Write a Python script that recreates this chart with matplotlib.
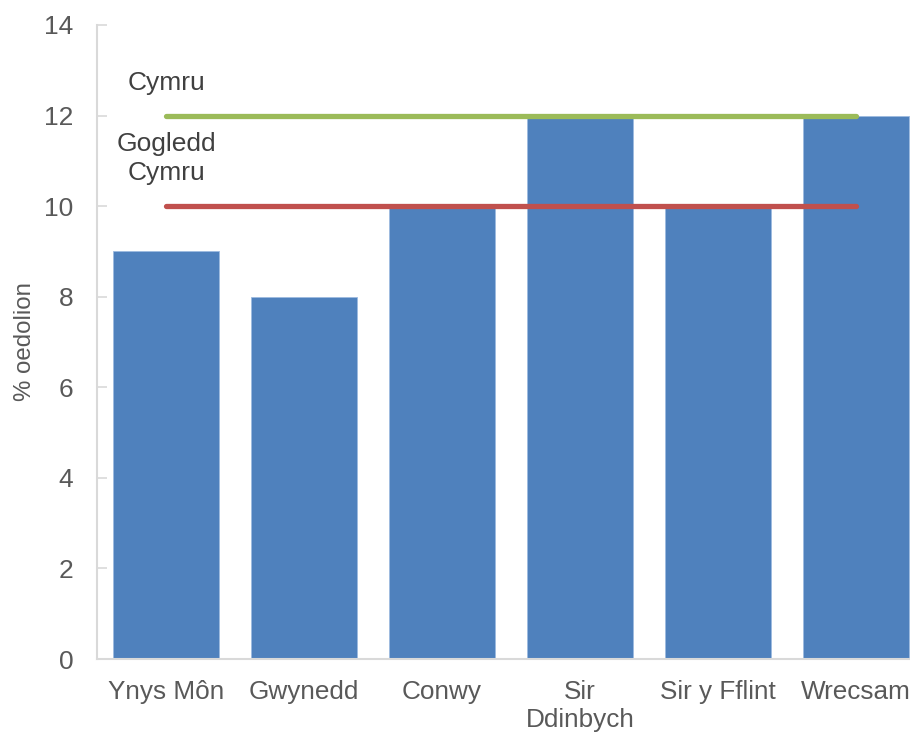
import matplotlib
matplotlib.use("Agg")
import matplotlib.pyplot as plt
import numpy as np

plt.rcParams['font.family'] = ['Liberation Sans', 'DejaVu Sans']

areas = ["Ynys Môn", "Gwynedd", "Conwy", "Sir\nDdinbych", "Sir y Fflint", "Wrecsam"]
values = [9, 8, 10, 12, 10, 12]
cymru = 12
gogledd_cymru = 10

TEXT = "#595959"
GRID = "#d9d9d9"

fig = plt.figure(figsize=(9.1, 7.33), dpi=100)
ax = fig.add_axes([0.1066, 0.1009, 0.8934, 0.865])

x = np.arange(len(areas))
ax.bar(x, values, width=0.772, color="#4f81bd", edgecolor="#9dbbe0", linewidth=0.6, zorder=2)
ax.plot([x[0], x[-1]], [cymru, cymru], color="#9bbb59", lw=3.8,
        solid_capstyle="round", zorder=3)
ax.plot([x[0], x[-1]], [gogledd_cymru, gogledd_cymru], color="#c0504d", lw=3.8,
        solid_capstyle="round", zorder=3)

ax.text(x[0], 12.72, "Cymru", ha="center", va="center", fontsize=19, color="#404040")
ax.text(x[0], 11.06, "Gogledd\nCymru", ha="center", va="center", fontsize=19,
        color="#404040", linespacing=1.25)

ax.set_xlim(-0.5, 5.39)
ax.set_ylim(0, 14)
ax.set_yticks(np.arange(0, 15, 2))
ax.set_xticks(x)
ax.set_xticklabels(areas, fontsize=18.8, color=TEXT, linespacing=1.2)
ax.tick_params(axis="x", length=0, pad=15)
ax.tick_params(axis="y", direction="in", length=7, width=1.2, color=GRID,
               labelsize=19, labelcolor=TEXT, pad=17)
ax.set_ylabel("% oedolion", fontsize=17.3, color=TEXT, labelpad=6)

for side in ["top", "right"]:
    ax.spines[side].set_visible(False)
for side in ["left", "bottom"]:
    ax.spines[side].set_color(GRID)
    ax.spines[side].set_linewidth(1.5)

fig.savefig("out.png", dpi=100)
